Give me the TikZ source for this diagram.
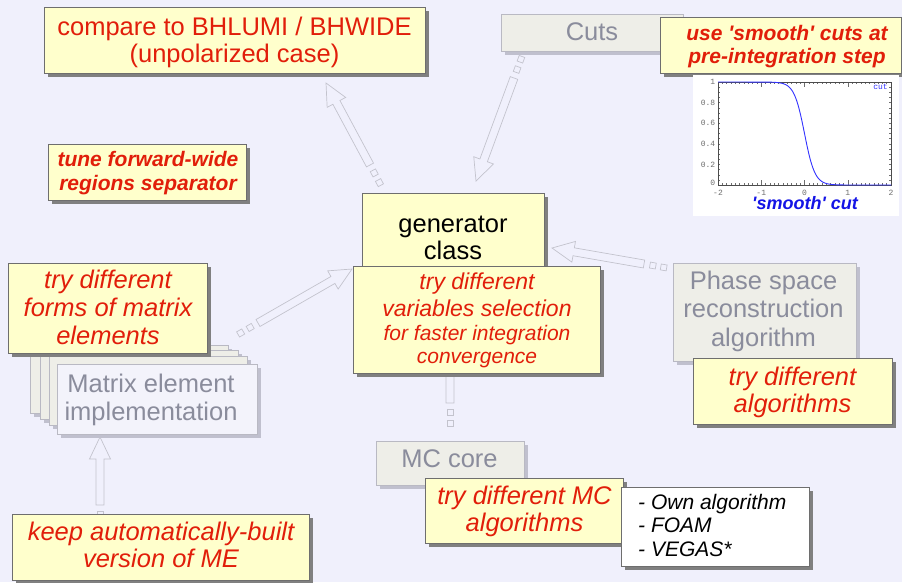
\documentclass[tikz,border=0pt]{standalone}
\usepackage{fontspec}
\setmainfont{Liberation Sans}
\setmonofont{Liberation Mono}
\usetikzlibrary{calc,shadows}
\definecolor{bg}{RGB}{240,240,252}
\definecolor{ylw}{RGB}{255,255,204}
\definecolor{yborder}{RGB}{110,110,110}
\definecolor{yshadow}{RGB}{128,128,128}
\definecolor{gfill}{RGB}{238,238,232}
\definecolor{mefill}{RGB}{243,243,251}
\definecolor{gborder}{RGB}{185,185,195}
\definecolor{gshadow}{RGB}{192,192,206}
\definecolor{gtext}{RGB}{138,140,156}
\definecolor{redtxt}{RGB}{225,30,10}
\definecolor{arrowc}{RGB}{195,195,205}
\definecolor{plotblue}{RGB}{50,50,255}
\definecolor{labelblue}{RGB}{20,20,230}
\definecolor{tickgray}{RGB}{110,110,110}
\newcommand{\fs}[2]{\fontsize{#1}{#2}\selectfont}
\newcommand{\blkarrow}[2]{%
  \coordinate (blkhead) at ($(#2)!22pt!(#1)$);
  \draw[arrowline] ($(#1)!4pt!90:(#2)$) -- ($(blkhead)!4pt!-90:(#1)$) -- ($(blkhead)!10.5pt!-90:(#1)$) -- (#2) -- ($(blkhead)!10.5pt!90:(#1)$) -- ($(blkhead)!4pt!90:(#1)$) -- ($(#1)!4pt!-90:(#2)$) -- cycle;
  \foreach \d in {-9pt,-20pt}{%
    \coordinate (blksq) at ($(#1)!\d!(#2)$);
    \draw[arrowline] ($(blksq)!4.2pt!45:(#2)$) -- ($(blksq)!4.2pt!135:(#2)$) -- ($(blksq)!4.2pt!-135:(#2)$) -- ($(blksq)!4.2pt!-45:(#2)$) -- cycle;
  }%
}
\begin{document}
\begin{tikzpicture}[x=1pt,y=-1pt,
  ybox/.style={draw=yborder, fill=ylw, line width=0.9pt, inner sep=0pt,
    drop shadow={shadow xshift=3.5pt, shadow yshift=-3.5pt, fill=yshadow, opacity=1}},
  gbox/.style={draw=gborder, fill=gfill, line width=0.9pt, inner sep=0pt,
    drop shadow={shadow xshift=3.5pt, shadow yshift=-3.5pt, fill=gshadow, opacity=1}},
  wbox/.style={draw=yborder, fill=white, line width=0.9pt, inner sep=0pt,
    drop shadow={shadow xshift=3.5pt, shadow yshift=-3.5pt, fill=yshadow, opacity=1}},
  txt/.style={inner sep=0pt, align=center},
  redup/.style={txt, text=redtxt, font=\fs{25.5}{27}},
  redit/.style={txt, text=redtxt, font=\fs{25.5}{28}\itshape},
  redbf/.style={txt, text=redtxt, font=\fs{21}{23.5}\bfseries\itshape},
  graytxt/.style={txt, text=gtext, font=\fs{25.5}{28.5}},
  arrowline/.style={draw=arrowc, fill=bg, line width=0.7pt, line join=miter},
  tlabel/.style={inner sep=0pt, text=tickgray, font=\fs{8}{9}\ttfamily},
]
\useasboundingbox[fill=bg] (0,0) rectangle (902,582);

% arrow end points
\coordinate (aT) at (370,165); \coordinate (aH) at (326,83);
\coordinate (bT) at (514,78);  \coordinate (bHd) at (476,181);
\coordinate (cT) at (258,323); \coordinate (cH) at (352,269);
\coordinate (dT) at (644,264); \coordinate (dH) at (552,248);
\coordinate (eT) at (450,403); \coordinate (eH) at (450,300);
\coordinate (fT) at (100,505); \coordinate (fH) at (100,437);
\blkarrow{aT}{aH}
\blkarrow{bT}{bHd}
\blkarrow{cT}{cH}
\blkarrow{dT}{dH}
\blkarrow{eT}{eH}
\blkarrow{fT}{fH}

% top left
\node[ybox, minimum width=381pt, minimum height=66pt] (compare) at (234.5,40) {};
\node[redup] (comparet) at (234.5,42.1) {compare to BHLUMI / BHWIDE\\(unpolarized case)};

% cuts
\node[gbox, minimum width=182pt, minimum height=37pt] (cuts) at (592,32.5) {};
\node[graytxt] (cutst) at (592,32) {Cuts};
\node[ybox, minimum width=241pt, minimum height=56pt] (smooth) at (780.5,45) {};
\node[redbf] (smootht) at (787,46.7) {use \textquotesingle smooth\textquotesingle\ cuts at\\pre-integration step};

% plot
\node[fill=white, inner sep=0pt, minimum width=206pt, minimum height=141pt] (plotbg) at (796,145.5) {};
\begin{scope}[shift={(804.5,185)}, x=43.25pt, y=103pt]
  \foreach \t in {-2,-1.9,...,2.01} {
    \draw[tickgray, line width=0.4pt] (\t,0) -- ++(0,0.018);
    \draw[tickgray, line width=0.4pt] (\t,1) -- ++(0,-0.018);
  }
  \foreach \t in {-2,-1,0,1,2} {
    \draw[tickgray, line width=0.5pt] (\t,0) -- ++(0,0.045);
    \draw[tickgray, line width=0.5pt] (\t,1) -- ++(0,-0.045);
  }
  \foreach \v in {0,0.05,...,1.01} {
    \draw[tickgray, line width=0.4pt] (-2,\v) -- ++(0.04,0);
    \draw[tickgray, line width=0.4pt] (2,\v) -- ++(-0.04,0);
  }
  \draw[black!70, line width=0.6pt] (-2,0) rectangle (2,1);
  \draw[plotblue, line width=0.9pt] (-2,1) -- plot[domain=-0.9:0.9, samples=90, smooth] (\x,{1/(1+exp(\x/0.12))}) -- (2,0);
  \foreach \v/\l [count=\i] in {1/1,0.8/0.8,0.6/0.6,0.4/0.4,0.2/0.2,0.02/0}
    \node[tlabel, anchor=east] (yl\i) at (-2.06,\v) {\l};
  \foreach \t/\l [count=\i] in {-2/-2,-1/-1,0/0,1/1,2/2}
    \node[tlabel, anchor=north] (xl\i) at (\t,-0.045) {\l};
  \node[tlabel, text=plotblue, anchor=north east] (cutlbl) at (1.93,0.985) {cut};
\end{scope}
\node[inner sep=0pt, text=labelblue, font=\fs{18}{20}\bfseries\itshape] (plotlbl) at (805,203.5) {\textquotesingle smooth\textquotesingle\ cut};

% tune
\node[ybox, minimum width=198pt, minimum height=56pt] (tune) at (147,172) {};
\node[redbf] (tunet) at (148,172.9) {tune forward-wide\\regions separator};

% generator class
\node[ybox, minimum width=182pt, minimum height=97pt] (gen) at (453,241.5) {};
\node[txt, font=\fs{25.5}{27}] (gent) at (453,238.3) {generator\\class};
\node[ybox, minimum width=247pt, minimum height=107pt] (vars) at (476.5,319.5) {};
\node[txt, text=redtxt, font=\fs{23}{27}\itshape] (varst1) at (477,295.2) {try different\\variables selection};
\node[txt, text=redtxt, font=\fs{21}{23}\itshape] (varst2) at (477,346.1) {for faster integration\\convergence};

% phase space
\node[gbox, minimum width=183pt, minimum height=98pt] (phase) at (764.5,312) {};
\node[graytxt] (phaset) at (763.5,311.2) {Phase space\\reconstruction\\algorithm};
\node[ybox, minimum width=199pt, minimum height=66pt] (algs) at (792.5,391) {};
\node[redit, font=\fs{25.5}{27}\itshape] (algst) at (792.5,392.8) {try different\\algorithms};

% matrix element stack
\node[gbox, minimum width=198pt, minimum height=68pt] (mepage1) at (129,379) {};
\node[gbox, minimum width=198pt, minimum height=69pt] (mepage2) at (139,384.5) {};
\node[gbox, minimum width=198pt, minimum height=69pt] (mepage3) at (148,390.5) {};
\node[gbox, fill=mefill, minimum width=200pt, minimum height=70pt] (me) at (157,399) {};
\node[graytxt, font=\fs{25.5}{28}] (met) at (151,399.5) {Matrix element\\implementation};
\node[ybox, minimum width=199pt, minimum height=90pt] (forms) at (107.5,308) {};
\node[redit] (formst) at (108,307.5) {try different\\forms of matrix\\elements};

% MC core
\node[gbox, minimum width=148pt, minimum height=44pt] (mccore) at (450,463) {};
\node[graytxt] (mccoret) at (449.5,458.7) {MC core};
\node[ybox, minimum width=198pt, minimum height=65pt] (mcalgs) at (524,510.5) {};
\node[redit, font=\fs{25.5}{27.7}\itshape] (mcalgst) at (524.5,511.5) {try different MC\\algorithms};
\node[wbox, minimum width=188pt, minimum height=79pt] (list) at (715,526.5) {};
\node[inner sep=0pt, align=left, anchor=west, font=\fs{21}{23.5}\itshape] (listt) at (638,525) {- Own algorithm\\- FOAM\\- VEGAS*};

% keep
\node[ybox, minimum width=297pt, minimum height=66pt] (keep) at (160.5,547) {};
\node[redit, font=\fs{25.5}{27.7}\itshape] (keept) at (161,544.9) {keep automatically-built\\version of ME};
\end{tikzpicture}
\end{document}
